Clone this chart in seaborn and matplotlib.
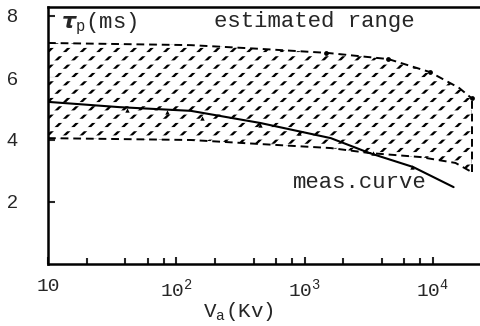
import numpy as np
import pandas as pd
import matplotlib
matplotlib.use("Agg")
import matplotlib.pyplot as plt
import seaborn as sns
from matplotlib.ticker import FixedLocator, FixedFormatter, NullFormatter

# ---- data ----
upper_v = [10, 130, 450, 1500, 4500, 9500, 16000, 20000]
upper_tau = [7.13, 7.06, 6.94, 6.81, 6.61, 6.19, 5.68, 5.35]

lower_v = [10, 130, 450, 1600, 3200, 8000, 15000, 20000]
lower_tau = [4.06, 4.00, 3.87, 3.74, 3.58, 3.45, 3.26, 2.97]

meas_v = [10, 36, 130, 450, 1600, 3200, 7000, 14500]
meas_tau = [5.23, 5.06, 4.94, 4.55, 4.06, 3.58, 3.13, 2.48]

pts_v = [41, 85, 158, 447, 912, 3400, 6900]
pts_tau = [4.97, 4.90, 4.71, 4.48, 4.23, 3.58, 3.13]

upper_pts_v = [1480, 4470, 9550, 20000]
upper_pts_tau = [6.81, 6.61, 6.19, 5.35]

x_major = [10, 100, 1000, 10000]
x_major_labels = ["10", r"$\mathregular{10^2}$", r"$\mathregular{10^3}$", r"$\mathregular{10^4}$"]
x_minor = [20, 40, 60, 80, 200, 400, 600, 800, 2000, 4000, 6000, 8000]
y_ticks = [2, 4, 6, 8]

sns.set_theme(style="white")
plt.rcParams["font.family"] = ["Liberation Mono", "DejaVu Sans"]
plt.rcParams["mathtext.fontset"] = "custom"
plt.rcParams["mathtext.rm"] = "Liberation Mono"

fig = plt.figure(figsize=(4.81, 3.26), dpi=100)
ax = fig.add_axes([48 / 481, (326 - 264) / 326, (480 - 48) / 481, (264 - 7) / 326])

xx = np.geomspace(10, 20000, 200)
upper_i = np.interp(np.log10(xx), np.log10(upper_v), upper_tau)
lower_i = np.interp(np.log10(xx), np.log10(lower_v), lower_tau)

with plt.rc_context({"hatch.linewidth": 1.7}):
    ax.fill_between(xx, lower_i, upper_i, facecolor="none", edgecolor="black",
                    hatch="//", linewidth=0, zorder=1)
with plt.rc_context({"hatch.linewidth": 3.0}):
    ax.fill_between(xx, lower_i, upper_i, facecolor="none", edgecolor="white",
                    hatch="--", linewidth=0, zorder=1.5)

dash = (0, (4, 2.5))
sns.lineplot(x=upper_v, y=upper_tau, ax=ax, color="black", lw=1.4, zorder=3)
sns.lineplot(x=lower_v, y=lower_tau, ax=ax, color="black", lw=1.4, zorder=3)
for ln in ax.lines:
    ln.set_dashes((4, 2.5))
ax.vlines(upper_v[-1], lower_tau[-1], upper_tau[-1], colors="black", lw=1.4,
          linestyles=dash, zorder=3)
sns.lineplot(x=meas_v, y=meas_tau, ax=ax, color="black", lw=1.5, zorder=4)
sns.scatterplot(x=pts_v, y=pts_tau, ax=ax, color="black", s=10, marker="^", linewidth=0, zorder=5)
sns.scatterplot(x=upper_pts_v, y=upper_pts_tau, ax=ax, color="black", s=12, linewidth=0, zorder=5)

ax.set_xscale("log")
ax.set_xlim(10, 10 ** (1 + (480 - 48) / 128.3))
ax.set_ylim(0, (264 - 7) / 31)

ax.xaxis.set_major_locator(FixedLocator(x_major))
ax.xaxis.set_major_formatter(FixedFormatter(x_major_labels))
ax.xaxis.set_minor_locator(FixedLocator(x_minor))
ax.xaxis.set_minor_formatter(NullFormatter())
ax.set_yticks(y_ticks)
ax.set_yticklabels([str(t) for t in y_ticks], family="Liberation Sans")

ax.tick_params(axis="x", which="major", direction="in", length=5, width=1.5,
               labelsize=14, pad=10, bottom=True)
ax.tick_params(axis="x", which="minor", direction="in", length=4, width=1.5, bottom=True)
ax.tick_params(axis="y", direction="in", length=5, width=1.5, labelsize=14, pad=22, left=True)

for s in ["left", "bottom", "top"]:
    ax.spines[s].set_color("black")
    ax.spines[s].set_linewidth(1.8)
ax.spines["right"].set_visible(False)

ax.set_xlabel(r"$\mathregular{V_a}$(Kv)", fontsize=15)
ax.xaxis.set_label_coords((238 - 48) / 432, -0.14)

ax.text(0.03, 0.985, r"$\boldsymbol{\tau}_{\mathregular{p}}$(ms)", transform=ax.transAxes,
        fontsize=16, va="top", ha="left")
ax.text((214 - 48) / 432, 0.985, "estimated range", transform=ax.transAxes,
        fontsize=16, va="top", ha="left")
ax.text((293 - 48) / 432, (264 - 183) / 257, "meas.curve", transform=ax.transAxes,
        fontsize=16, va="center", ha="left")

fig.savefig("out.png", dpi=100)
